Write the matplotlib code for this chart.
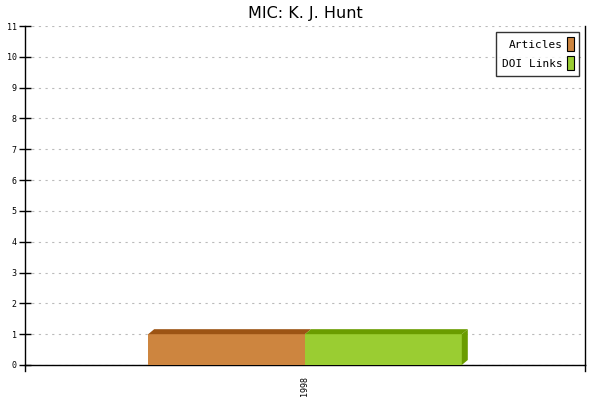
import matplotlib.pyplot as plt
from matplotlib.patches import Patch, Polygon

years = ['1998']
articles = [1]
doi_links = [1]
series_names = ['Articles', 'DOI Links']
face_colors = ['#cd853f', '#9acd32']
dark_colors = ['#9c5414', '#6a9c00']

fig = plt.figure(figsize=(6, 4), dpi=100)
ax = fig.add_axes([25 / 600, 35 / 400, 560 / 600, 339 / 400])

width = 0.28
dx = 6 / 560
dy = 5 / 30.8
values = [articles, doi_links]
for i, (vals, fc, dc) in enumerate(zip(values, face_colors, dark_colors)):
    for j, v in enumerate(vals):
        x0 = j - width + i * width
        x1 = x0 + width
        ax.bar(x0, v, width=width, align='edge', color=fc, zorder=3)
        ax.add_patch(Polygon([(x0, v), (x0 + dx, v + dy), (x1 + dx, v + dy), (x1, v)],
                             closed=True, color=dc, lw=0, zorder=3))
        if i == len(values) - 1:
            ax.add_patch(Polygon([(x1, 0), (x1 + dx, dy), (x1 + dx, v + dy), (x1, v)],
                                 closed=True, color=dc, lw=0, zorder=3))

ax.set_xlim(-0.5, 0.5)
ax.set_ylim(0, 11)
ax.set_yticks(range(12))
ax.set_xticks(range(len(years)))
ax.set_xticklabels(years, rotation=90, fontsize=6, family='DejaVu Sans Mono')
for lbl in ax.get_yticklabels():
    lbl.set_fontsize(6)
    lbl.set_family('DejaVu Sans Mono')
ax.tick_params(axis='y', direction='inout', length=8, width=1, pad=2)
ax.tick_params(axis='x', length=0, pad=8)
ax.grid(axis='y', color='#bbbbbb', linestyle=(0, (2, 4)), lw=0.8, zorder=0)
ax.spines['top'].set_visible(False)
for s in ['left', 'right', 'bottom']:
    ax.spines[s].set_linewidth(1)
# corner ticks on bottom axis
ax.plot([-0.5, -0.5], [0, -0.2], color='black', lw=1, clip_on=False)
ax.plot([0.5, 0.5], [0, -0.2], color='black', lw=1, clip_on=False)

ax.set_title('MIC: K. J. Hunt', fontsize=11.5, pad=6)

handles = [Patch(facecolor=c, edgecolor='black', lw=0.8) for c in face_colors]
leg = ax.legend(handles, series_names, loc='upper right', markerfirst=False,
                prop={'family': 'DejaVu Sans Mono', 'size': 8},
                frameon=True, fancybox=False, edgecolor='black',
                handlelength=0.6, handleheight=1.6, handletextpad=0.4,
                borderaxespad=0.5, labelspacing=0.4, borderpad=0.5)
leg.get_frame().set_linewidth(1)

fig.savefig('out.png', dpi=100)
